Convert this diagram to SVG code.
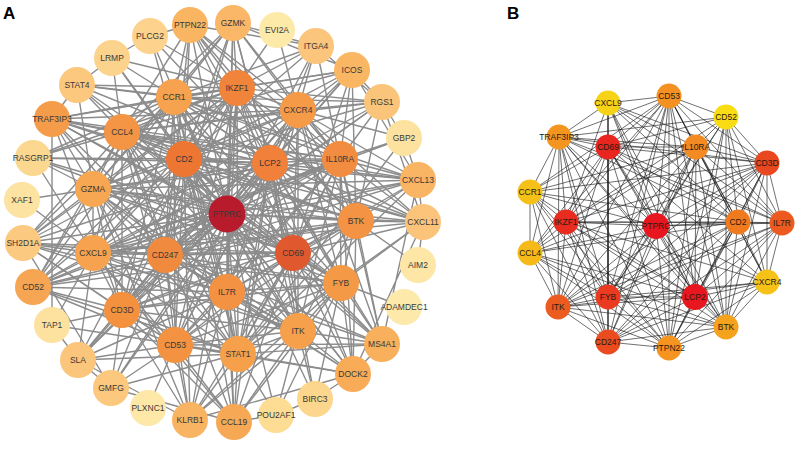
<svg xmlns="http://www.w3.org/2000/svg" width="800" height="449" viewBox="0 0 800 449">
<style>
.bg{fill:#ffffff}
.ea{fill:none;stroke:#8c8c8c;stroke-width:1.4}
.eb{fill:none;stroke:#1e1e1e;stroke-width:0.75;stroke-opacity:0.85}
.na{stroke:none}
.ta{font-family:"Liberation Sans",Arial,sans-serif;font-size:8.5px;fill:#383838;text-anchor:middle}
.tb{font-family:"Liberation Sans",Arial,sans-serif;font-size:8.5px;fill:#2a1a12;text-anchor:middle}
.pl{font-family:"Liberation Sans",Arial,sans-serif;font-size:17px;font-weight:bold;fill:#000}
</style>
<rect class="bg" x="0" y="0" width="800" height="449"/>
<text class="pl" x="3" y="19">A</text>
<text class="pl" x="507" y="19">B</text>
<g id="connectors-a">
<path class="ea" d="M227 214L184 159M227 214L270 163M227 214L237 88M227 214L174 97M227 214L122 132M227 214L298 110M227 214L340 159M227 214L356 221M227 214L293 253M227 214L341 283M227 214L298 331M227 214L238 354M227 214L175 345M227 214L122 310M227 214L227 292M227 214L165 255M227 214L93 253M227 214L93 189M227 214L190 25M227 214L233 23M227 214L316 46M227 214L352 70M227 214L382 102M227 214L418 180M227 214L423 222M227 214L382 344M227 214L353 374M227 214L315 399M227 214L276 415M227 214L234 422M227 214L190 420M227 214L111 388M227 214L78 360M227 214L33 287M227 214L23 243M227 214L33 158M227 214L52 119M227 214L77 85M227 214L112 58M227 214L150 36"/>
<path class="ea" d="M184 159L270 163M184 159L237 88M184 159L174 97M184 159L122 132M184 159L298 110M184 159L340 159M184 159L356 221M184 159L293 253M184 159L341 283M184 159L298 331M184 159L238 354M184 159L175 345M184 159L122 310M184 159L227 292M184 159L165 255M184 159L93 253M184 159L93 189M184 159L190 25M184 159L233 23M184 159L352 70M184 159L382 102M184 159L418 180M184 159L423 222M184 159L382 344M184 159L353 374M184 159L234 422M184 159L190 420M184 159L78 360M184 159L33 287M184 159L23 243M184 159L33 158M184 159L52 119M184 159L77 85M184 159L112 58M184 159L150 36M184 159L316 46"/>
<path class="ea" d="M270 163L237 88M270 163L174 97M270 163L122 132M270 163L298 110M270 163L340 159M270 163L356 221M270 163L293 253M270 163L341 283M270 163L298 331M270 163L238 354M270 163L175 345M270 163L122 310M270 163L227 292M270 163L165 255M270 163L93 253M270 163L93 189M270 163L190 25M270 163L233 23M270 163L316 46M270 163L352 70M270 163L382 102M270 163L418 180M270 163L423 222M270 163L382 344M270 163L353 374M270 163L315 399M270 163L234 422M270 163L111 388M270 163L78 360M270 163L33 287M270 163L23 243M270 163L52 119M270 163L77 85M270 163L150 36M270 163L33 158"/>
<path class="ea" d="M293 253L237 88M293 253L174 97M293 253L122 132M293 253L298 110M293 253L340 159M293 253L356 221M293 253L341 283M293 253L298 331M293 253L238 354M293 253L175 345M293 253L122 310M293 253L227 292M293 253L165 255M293 253L93 253M293 253L93 189M293 253L233 23M293 253L352 70M293 253L418 180M293 253L423 222M293 253L382 344M293 253L353 374M293 253L234 422M293 253L190 420M293 253L33 287M293 253L23 243M293 253L52 119M293 253L33 158M293 253L190 25"/>
<path class="ea" d="M165 255L237 88M165 255L174 97M165 255L122 132M165 255L298 110M165 255L340 159M165 255L356 221M165 255L341 283M165 255L298 331M165 255L238 354M165 255L175 345M165 255L122 310M165 255L227 292M165 255L93 253M165 255L93 189M165 255L233 23M165 255L352 70M165 255L418 180M165 255L382 344M165 255L353 374M165 255L190 420M165 255L33 287M165 255L23 243M165 255L52 119M165 255L190 25M165 255L78 360M165 255L111 388M165 255L382 102"/>
<path class="ea" d="M340 159L237 88M340 159L174 97M340 159L122 132M340 159L298 110M340 159L356 221M340 159L341 283M340 159L298 331M340 159L238 354M340 159L175 345M340 159L122 310M340 159L227 292M340 159L93 253M340 159L93 189M340 159L352 70M340 159L382 102M340 159L404 138M340 159L418 180M340 159L423 222M340 159L382 344M340 159L353 374M340 159L33 287M340 159L52 119M340 159L316 46M340 159L233 23M340 159L190 25"/>
<path class="ea" d="M356 221L237 88M356 221L174 97M356 221L122 132M356 221L298 110M356 221L341 283M356 221L298 331M356 221L238 354M356 221L175 345M356 221L122 310M356 221L227 292M356 221L93 253M356 221L93 189M356 221L418 180M356 221L423 222M356 221L382 344M356 221L353 374M356 221L382 102M356 221L352 70M356 221L52 119M356 221L190 25M356 221L33 287M356 221L418 265"/>
<path class="ea" d="M237 88L174 97M237 88L122 132M237 88L298 110M237 88L341 283M237 88L298 331M237 88L238 354M237 88L175 345M237 88L122 310M237 88L227 292M237 88L93 253M237 88L93 189M237 88L190 25M237 88L233 23M237 88L352 70M237 88L382 102M237 88L316 46M237 88L77 85M237 88L112 58M237 88L150 36M237 88L52 119M237 88L33 158M237 88L33 287M237 88L23 243M237 88L277 30"/>
<path class="ea" d="M298 110L174 97M298 110L122 132M298 110L341 283M298 110L298 331M298 110L238 354M298 110L175 345M298 110L122 310M298 110L227 292M298 110L93 253M298 110L93 189M298 110L233 23M298 110L316 46M298 110L352 70M298 110L382 102M298 110L418 180M298 110L423 222M298 110L190 25M298 110L52 119M298 110L77 85M298 110L277 30M298 110L404 138M298 110L382 344"/>
<path class="ea" d="M174 97L122 132M174 97L341 283M174 97L298 331M174 97L238 354M174 97L175 345M174 97L122 310M174 97L227 292M174 97L93 253M174 97L93 189M174 97L233 23M174 97L190 25M174 97L316 46M174 97L352 70M174 97L382 102M174 97L418 180M174 97L423 222M174 97L52 119M174 97L77 85M174 97L112 58M174 97L23 243M174 97L33 287M174 97L33 158"/>
<path class="ea" d="M122 132L341 283M122 132L298 331M122 132L238 354M122 132L175 345M122 132L122 310M122 132L227 292M122 132L93 253M122 132L93 189M122 132L233 23M122 132L352 70M122 132L382 102M122 132L418 180M122 132L423 222M122 132L190 25M122 132L52 119M122 132L77 85M122 132L112 58M122 132L23 243M122 132L33 287M122 132L33 158M122 132L234 422"/>
<path class="ea" d="M93 189L341 283M93 189L298 331M93 189L238 354M93 189L175 345M93 189L122 310M93 189L227 292M93 189L93 253M93 189L233 23M93 189L418 180M93 189L423 222M93 189L52 119M93 189L33 158M93 189L22 200M93 189L23 243M93 189L33 287M93 189L77 85M93 189L190 420"/>
<path class="ea" d="M93 253L341 283M93 253L298 331M93 253L238 354M93 253L175 345M93 253L122 310M93 253L227 292M93 253L418 180M93 253L423 222M93 253L23 243M93 253L33 287M93 253L52 325M93 253L22 200M93 253L404 138M93 253L78 360M93 253L33 158M93 253L234 422"/>
<path class="ea" d="M122 310L341 283M122 310L298 331M122 310L238 354M122 310L175 345M122 310L227 292M122 310L23 243M122 310L33 287M122 310L78 360M122 310L111 388M122 310L52 325M122 310L52 119M122 310L190 420M122 310L234 422"/>
<path class="ea" d="M175 345L341 283M175 345L298 331M175 345L238 354M175 345L227 292M175 345L33 287M175 345L78 360M175 345L111 388M175 345L190 420M175 345L234 422M175 345L353 374M175 345L148 408M175 345L23 243M175 345L382 344"/>
<path class="ea" d="M227 292L341 283M227 292L298 331M227 292L238 354M227 292L190 420M227 292L234 422M227 292L353 374M227 292L382 344M227 292L33 287M227 292L23 243M227 292L78 360M227 292L52 119M227 292L233 23"/>
<path class="ea" d="M341 283L298 331M341 283L238 354M341 283L382 344M341 283L353 374M341 283L315 399M341 283L423 222M341 283L404 307M341 283L276 415M341 283L234 422M341 283L190 420M341 283L52 119"/>
<path class="ea" d="M298 331L238 354M298 331L382 344M298 331L353 374M298 331L315 399M298 331L190 420M298 331L234 422M298 331L276 415M298 331L23 243"/>
<path class="ea" d="M238 354L382 344M238 354L353 374M238 354L190 420M238 354L234 422M238 354L276 415M238 354L33 287M238 354L78 360M238 354L111 388M238 354L404 138M238 354L52 325M238 354L423 222M238 354L418 180"/>
<path class="ea" d="M150 36L190 25M112 58L150 36M77 85L112 58M52 119L77 85M352 70L382 102M382 102L404 138M404 138L418 180M418 180L423 222M423 222L418 265M382 344L353 374M353 374L315 399M315 399L276 415M276 415L234 422M52 325L78 360M78 360L111 388M52 119L52 325M233 23L316 46M316 46L382 102M352 70L418 180M190 420L353 374M233 23L352 70M190 25L316 46M382 344L418 180M353 374L423 222M382 102L423 222M111 388L23 243M190 420L78 360M234 422L111 388"/>
</g>
<g id="a-PTPRC"><circle class="na" cx="227" cy="214" r="18.5" fill="#b81b2b"/><text class="ta" x="227" y="217">PTPRC</text></g>
<g id="a-CD2"><circle class="na" cx="184" cy="159" r="18" fill="#ee7633"/><text class="ta" x="184" y="162">CD2</text></g>
<g id="a-LCP2"><circle class="na" cx="270" cy="163" r="18" fill="#f0803a"/><text class="ta" x="270" y="166">LCP2</text></g>
<g id="a-IKZF1"><circle class="na" cx="237" cy="88" r="18" fill="#f0843a"/><text class="ta" x="237" y="91">IKZF1</text></g>
<g id="a-CCR1"><circle class="na" cx="174" cy="97" r="18" fill="#f6a24f"/><text class="ta" x="174" y="100">CCR1</text></g>
<g id="a-CCL4"><circle class="na" cx="122" cy="132" r="18" fill="#f39545"/><text class="ta" x="122" y="135">CCL4</text></g>
<g id="a-CXCR4"><circle class="na" cx="298" cy="110" r="18" fill="#f59b47"/><text class="ta" x="298" y="113">CXCR4</text></g>
<g id="a-IL10RA"><circle class="na" cx="340" cy="159" r="18" fill="#f28c40"/><text class="ta" x="340" y="162">IL10RA</text></g>
<g id="a-BTK"><circle class="na" cx="356" cy="221" r="18" fill="#f39343"/><text class="ta" x="356" y="224">BTK</text></g>
<g id="a-CD69"><circle class="na" cx="293" cy="253" r="18" fill="#e0582e"/><text class="ta" x="293" y="256">CD69</text></g>
<g id="a-FYB"><circle class="na" cx="341" cy="283" r="18" fill="#f49a46"/><text class="ta" x="341" y="286">FYB</text></g>
<g id="a-ITK"><circle class="na" cx="298" cy="331" r="18" fill="#f6a04c"/><text class="ta" x="298" y="334">ITK</text></g>
<g id="a-STAT1"><circle class="na" cx="238" cy="354" r="18" fill="#f6a04c"/><text class="ta" x="238" y="357">STAT1</text></g>
<g id="a-CD53"><circle class="na" cx="175" cy="345" r="18" fill="#f39240"/><text class="ta" x="175" y="348">CD53</text></g>
<g id="a-CD3D"><circle class="na" cx="122" cy="310" r="18" fill="#f3913f"/><text class="ta" x="122" y="313">CD3D</text></g>
<g id="a-IL7R"><circle class="na" cx="227" cy="292" r="18" fill="#f39243"/><text class="ta" x="227" y="295">IL7R</text></g>
<g id="a-CD247"><circle class="na" cx="165" cy="255" r="18" fill="#ef8a3e"/><text class="ta" x="165" y="258">CD247</text></g>
<g id="a-CXCL9"><circle class="na" cx="93" cy="253" r="18" fill="#f6a24e"/><text class="ta" x="93" y="256">CXCL9</text></g>
<g id="a-GZMA"><circle class="na" cx="93" cy="189" r="18" fill="#f7a651"/><text class="ta" x="93" y="192">GZMA</text></g>
<g id="a-PTPN22"><circle class="na" cx="190" cy="25" r="18" fill="#f9b562"/><text class="ta" x="190" y="28">PTPN22</text></g>
<g id="a-GZMK"><circle class="na" cx="233" cy="23" r="18" fill="#f9b767"/><text class="ta" x="233" y="26">GZMK</text></g>
<g id="a-EVI2A"><circle class="na" cx="277" cy="30" r="18" fill="#fdeaa9"/><text class="ta" x="277" y="33">EVI2A</text></g>
<g id="a-ITGA4"><circle class="na" cx="316" cy="46" r="18" fill="#fbc57b"/><text class="ta" x="316" y="49">ITGA4</text></g>
<g id="a-ICOS"><circle class="na" cx="352" cy="70" r="18" fill="#f9b764"/><text class="ta" x="352" y="73">ICOS</text></g>
<g id="a-RGS1"><circle class="na" cx="382" cy="102" r="18" fill="#fbc47b"/><text class="ta" x="382" y="105">RGS1</text></g>
<g id="a-GBP2"><circle class="na" cx="404" cy="138" r="18" fill="#fde29f"/><text class="ta" x="404" y="141">GBP2</text></g>
<g id="a-CXCL13"><circle class="na" cx="418" cy="180" r="18" fill="#f9b563"/><text class="ta" x="418" y="183">CXCL13</text></g>
<g id="a-CXCL11"><circle class="na" cx="423" cy="222" r="18" fill="#fbc47a"/><text class="ta" x="423" y="225">CXCL11</text></g>
<g id="a-AIM2"><circle class="na" cx="418" cy="265" r="18" fill="#fde6a6"/><text class="ta" x="418" y="268">AIM2</text></g>
<g id="a-ADAMDEC1"><circle class="na" cx="404" cy="307" r="18" fill="#fde9aa"/><text class="ta" x="404" y="310">ADAMDEC1</text></g>
<g id="a-MS4A1"><circle class="na" cx="382" cy="344" r="18" fill="#f8b05c"/><text class="ta" x="382" y="347">MS4A1</text></g>
<g id="a-DOCK2"><circle class="na" cx="353" cy="374" r="18" fill="#f8ac58"/><text class="ta" x="353" y="377">DOCK2</text></g>
<g id="a-BIRC3"><circle class="na" cx="315" cy="399" r="18" fill="#fcd68c"/><text class="ta" x="315" y="402">BIRC3</text></g>
<g id="a-POU2AF1"><circle class="na" cx="276" cy="415" r="18" fill="#fddc94"/><text class="ta" x="276" y="418">POU2AF1</text></g>
<g id="a-CCL19"><circle class="na" cx="234" cy="422" r="18" fill="#f7a855"/><text class="ta" x="234" y="425">CCL19</text></g>
<g id="a-KLRB1"><circle class="na" cx="190" cy="420" r="18" fill="#f9b463"/><text class="ta" x="190" y="423">KLRB1</text></g>
<g id="a-PLXNC1"><circle class="na" cx="148" cy="408" r="18" fill="#fde8a8"/><text class="ta" x="148" y="411">PLXNC1</text></g>
<g id="a-GMFG"><circle class="na" cx="111" cy="388" r="18" fill="#fbc87d"/><text class="ta" x="111" y="391">GMFG</text></g>
<g id="a-SLA"><circle class="na" cx="78" cy="360" r="18" fill="#fbc67b"/><text class="ta" x="78" y="363">SLA</text></g>
<g id="a-TAP1"><circle class="na" cx="52" cy="325" r="18" fill="#fde29f"/><text class="ta" x="52" y="328">TAP1</text></g>
<g id="a-CD52"><circle class="na" cx="33" cy="287" r="18" fill="#f6a552"/><text class="ta" x="33" y="290">CD52</text></g>
<g id="a-SH2D1A"><circle class="na" cx="23" cy="243" r="18" fill="#fbc97f"/><text class="ta" x="23" y="246">SH2D1A</text></g>
<g id="a-XAF1"><circle class="na" cx="22" cy="200" r="18" fill="#fde3a1"/><text class="ta" x="22" y="203">XAF1</text></g>
<g id="a-RASGRP1"><circle class="na" cx="33" cy="158" r="18" fill="#fcd790"/><text class="ta" x="33" y="161">RASGRP1</text></g>
<g id="a-TRAF3IP3"><circle class="na" cx="52" cy="119" r="18" fill="#f59c4a"/><text class="ta" x="52" y="122">TRAF3IP3</text></g>
<g id="a-STAT4"><circle class="na" cx="77" cy="85" r="18" fill="#fbc87e"/><text class="ta" x="77" y="88">STAT4</text></g>
<g id="a-LRMP"><circle class="na" cx="112" cy="58" r="18" fill="#fcd38d"/><text class="ta" x="112" y="61">LRMP</text></g>
<g id="a-PLCG2"><circle class="na" cx="150" cy="36" r="18" fill="#fcd28c"/><text class="ta" x="150" y="39">PLCG2</text></g>
<g id="connectors-b">
<path class="eb" d="M608 103L669 96M608 103L559 137M608 103L608 147M608 103L696 147M608 103L767 163M608 103L566 222M608 103L656 226M608 103L738 222M608 103L782 223M608 103L608 297M608 103L695 297M608 103L726 327M608 103L608 342"/>
<path class="eb" d="M669 96L726 117M669 96L559 137M669 96L608 147M669 96L696 147M669 96L767 163M669 96L530 192M669 96L566 222M669 96L656 226M669 96L738 222M669 96L782 223M669 96L530 253M669 96L767 282M669 96L608 297M669 96L695 297M669 96L558 307M669 96L726 327M669 96L608 342M669 96L669 348"/>
<path class="eb" d="M726 117L559 137M726 117L608 147M726 117L696 147M726 117L767 163M726 117L566 222M726 117L656 226M726 117L738 222M726 117L782 223M726 117L767 282M726 117L608 297M726 117L695 297M726 117L726 327M726 117L669 348"/>
<path class="eb" d="M559 137L608 147M559 137L696 147M559 137L767 163M559 137L530 192M559 137L566 222M559 137L656 226M559 137L738 222M559 137L782 223M559 137L530 253M559 137L608 297M559 137L695 297M559 137L558 307M559 137L726 327M559 137L608 342M559 137L669 348"/>
<path class="eb" d="M608 147L696 147M608 147L767 163M608 147L530 192M608 147L566 222M608 147L656 226M608 147L738 222M608 147L782 223M608 147L530 253M608 147L767 282M608 147L608 297M608 147L695 297M608 147L558 307M608 147L726 327M608 147L608 342M608 147L669 348"/>
<path class="eb" d="M696 147L767 163M696 147L530 192M696 147L566 222M696 147L656 226M696 147L738 222M696 147L782 223M696 147L530 253M696 147L767 282M696 147L608 297M696 147L695 297M696 147L558 307M696 147L726 327M696 147L608 342M696 147L669 348"/>
<path class="eb" d="M767 163L530 192M767 163L566 222M767 163L656 226M767 163L738 222M767 163L782 223M767 163L530 253M767 163L767 282M767 163L608 297M767 163L695 297M767 163L558 307M767 163L726 327M767 163L608 342M767 163L669 348"/>
<path class="eb" d="M530 192L566 222M530 192L656 226M530 192L738 222M530 192L530 253M530 192L608 297M530 192L695 297M530 192L558 307M530 192L608 342M530 192L669 348"/>
<path class="eb" d="M566 222L656 226M566 222L738 222M566 222L782 223M566 222L530 253M566 222L767 282M566 222L608 297M566 222L695 297M566 222L558 307M566 222L726 327M566 222L608 342M566 222L669 348"/>
<path class="eb" d="M656 226L738 222M656 226L782 223M656 226L530 253M656 226L767 282M656 226L608 297M656 226L695 297M656 226L558 307M656 226L726 327M656 226L608 342M656 226L669 348"/>
<path class="eb" d="M738 222L782 223M738 222L530 253M738 222L767 282M738 222L608 297M738 222L695 297M738 222L558 307M738 222L726 327M738 222L608 342M738 222L669 348"/>
<path class="eb" d="M782 223L767 282M782 223L608 297M782 223L695 297M782 223L558 307M782 223L726 327M782 223L608 342M782 223L669 348"/>
<path class="eb" d="M530 253L608 297M530 253L695 297M530 253L558 307M530 253L726 327M530 253L608 342M530 253L669 348"/>
<path class="eb" d="M767 282L608 297M767 282L695 297M767 282L558 307M767 282L726 327M767 282L608 342M767 282L669 348"/>
<path class="eb" d="M608 297L695 297M608 297L558 307M608 297L726 327M608 297L608 342M608 297L669 348M695 297L558 307M695 297L726 327M695 297L608 342M695 297L669 348M558 307L726 327M558 307L608 342M558 307L669 348M726 327L608 342M726 327L669 348M608 342L669 348"/>
</g>
<g id="b-CXCL9"><circle class="na" cx="608" cy="103" r="12.5" fill="#f7d317"/><text class="tb" x="608" y="106">CXCL9</text></g>
<g id="b-CD53"><circle class="na" cx="669" cy="96" r="12.5" fill="#f59122"/><text class="tb" x="669" y="99">CD53</text></g>
<g id="b-CD52"><circle class="na" cx="726" cy="117" r="12.5" fill="#f9dc14"/><text class="tb" x="726" y="120">CD52</text></g>
<g id="b-TRAF3IP3"><circle class="na" cx="559" cy="137" r="12.5" fill="#f3951f"/><text class="tb" x="559" y="140">TRAF3IP3</text></g>
<g id="b-CD69"><circle class="na" cx="608" cy="147" r="12.5" fill="#e8261f"/><text class="tb" x="608" y="150">CD69</text></g>
<g id="b-IL10RA"><circle class="na" cx="696" cy="147" r="12.5" fill="#f38a22"/><text class="tb" x="696" y="150">IL10RA</text></g>
<g id="b-CD3D"><circle class="na" cx="767" cy="163" r="12.5" fill="#e8471f"/><text class="tb" x="767" y="166">CD3D</text></g>
<g id="b-CCR1"><circle class="na" cx="530" cy="192" r="12.5" fill="#f5c018"/><text class="tb" x="530" y="195">CCR1</text></g>
<g id="b-IKZF1"><circle class="na" cx="566" cy="222" r="12.5" fill="#e82c1f"/><text class="tb" x="566" y="225">IKZF1</text></g>
<g id="b-PTPRC"><circle class="na" cx="656" cy="226" r="13" fill="#e8161f"/><text class="tb" x="656" y="229">PTPRC</text></g>
<g id="b-CD2"><circle class="na" cx="738" cy="222" r="12.5" fill="#f07a1e"/><text class="tb" x="738" y="225">CD2</text></g>
<g id="b-IL7R"><circle class="na" cx="782" cy="223" r="12.5" fill="#ec5a20"/><text class="tb" x="782" y="226">IL7R</text></g>
<g id="b-CCL4"><circle class="na" cx="530" cy="253" r="12.5" fill="#f5b919"/><text class="tb" x="530" y="256">CCL4</text></g>
<g id="b-CXCR4"><circle class="na" cx="767" cy="282" r="12.5" fill="#f7c218"/><text class="tb" x="767" y="285">CXCR4</text></g>
<g id="b-FYB"><circle class="na" cx="608" cy="297" r="12.5" fill="#ea3b20"/><text class="tb" x="608" y="300">FYB</text></g>
<g id="b-LCP2"><circle class="na" cx="695" cy="297" r="13" fill="#e8161f"/><text class="tb" x="695" y="300">LCP2</text></g>
<g id="b-ITK"><circle class="na" cx="558" cy="307" r="12.5" fill="#ec5c20"/><text class="tb" x="558" y="310">ITK</text></g>
<g id="b-BTK"><circle class="na" cx="726" cy="327" r="12.5" fill="#f5a21c"/><text class="tb" x="726" y="330">BTK</text></g>
<g id="b-CD247"><circle class="na" cx="608" cy="342" r="12.5" fill="#ea4c20"/><text class="tb" x="608" y="345">CD247</text></g>
<g id="b-PTPN22"><circle class="na" cx="669" cy="348" r="12.5" fill="#f5941f"/><text class="tb" x="669" y="351">PTPN22</text></g>
</svg>
